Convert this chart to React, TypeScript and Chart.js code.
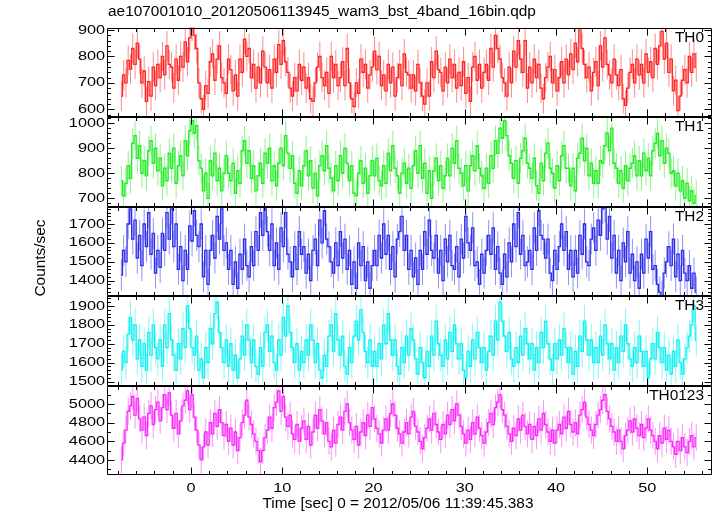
import React, { useEffect, useRef } from "react";
import { Chart, registerables } from "chart.js";
Chart.register(...registerables);

const W = 717;
const H = 516;

// time bins (sec)
const T0 = -7.625;
const BIN = 0.25;

const TITLE = "ae107001010_20120506113945_wam3_bst_4band_16bin.qdp";
const X_TITLE = "Time [sec] 0 = 2012/05/06 11:39:45.383";
const Y_TITLE = "Counts/sec";
const PANEL_NAMES = ["TH0", "TH1", "TH2", "TH3", "TH0123"];

const TH0 = [
  650, 730, 700, 785, 752, 830, 770, 850, 790, 700, 745, 630, 705, 650, 760, 690,
  770, 720, 800, 730, 840, 770, 760, 680, 790, 710, 800, 760, 855, 780, 870, 915,
  880, 830, 700, 640, 600, 690, 660, 780, 810, 710, 790, 840, 720, 700, 660, 790,
  750, 670, 730, 650, 790, 740, 865, 800, 830, 720, 770, 680, 760, 700, 820, 760,
  700, 750, 680, 790, 740, 845, 770, 860, 780, 740, 680, 650, 720, 670, 770, 710,
  760, 680, 720, 640, 630, 700, 760, 800, 720, 690, 740, 660, 800, 720, 770, 690,
  720, 780, 690, 830, 700, 640, 610, 700, 660, 790, 740, 770, 680, 730, 760, 820,
  750, 800, 690, 730, 670, 770, 700, 760, 650, 720, 770, 690, 810, 740, 730, 680,
  730, 670, 770, 700, 650, 620, 700, 650, 780, 720, 820, 750, 740, 670, 760, 700,
  790, 720, 770, 680, 740, 690, 780, 660, 720, 630, 760, 800, 710, 770, 680, 740,
  770, 710, 830, 760, 880, 830, 790, 720, 700, 650, 760, 700, 820, 760, 860, 790,
  740, 860, 680, 760, 700, 790, 720, 770, 680, 640, 720, 760, 800, 700, 750, 670,
  720, 780, 700, 790, 730, 810, 750, 850, 780, 905, 830, 770, 720, 760, 670, 740,
  780, 690, 840, 760, 870, 770, 730, 700, 790, 730, 690, 750, 640, 615, 680, 740,
  770, 700, 790, 730, 770, 700, 810, 740, 780, 720, 830, 770, 840, 895, 790, 850,
  740, 790, 670, 710, 595, 650, 710, 750, 700, 800, 740, 810, 760,
];

const TH1 = [
  770, 710, 760, 830, 780, 920, 950, 860, 910, 800, 850, 790, 890, 930, 840, 900,
  810, 860, 750, 820, 770, 880, 820, 900, 760, 830, 870, 790, 930, 870, 970, 1010,
  960, 990, 850, 820, 730, 800, 700, 850, 790, 880, 770, 820, 730, 800, 870, 800,
  770, 840, 720, 810, 760, 890, 930, 840, 890, 780, 830, 730, 790, 840, 760, 880,
  840, 900, 770, 830, 750, 840, 900, 830, 950, 880, 820, 870, 760, 720, 810, 750,
  830, 890, 790, 850, 740, 800, 710, 830, 870, 810, 910, 820, 780, 730, 830, 770,
  870, 800, 900, 840, 770, 830, 720, 710, 800, 850, 760, 820, 720, 790, 850, 790,
  860, 770, 750, 830, 760, 880, 810, 910, 820, 790, 720, 800, 840, 760, 820, 740,
  830, 890, 800, 910, 780, 840, 720, 810, 700, 810, 860, 770, 830, 740, 790, 860,
  790, 900, 840, 930, 820, 800, 750, 830, 730, 830, 870, 810, 910, 820, 790, 740,
  820, 760, 870, 820, 930, 880, 980, 940, 1010, 950, 870, 840, 780, 850, 760, 860,
  890, 940, 840, 820, 780, 860, 750, 720, 840, 770, 880, 920, 820, 800, 740, 830,
  770, 870, 910, 820, 820, 750, 820, 730, 860, 880, 940, 850, 900, 790, 840, 760,
  810, 760, 850, 840, 910, 960, 890, 980, 840, 820, 760, 810, 740, 830, 770, 820,
  840, 870, 790, 850, 790, 880, 810, 860, 790, 890, 920, 960, 870, 930, 840, 900,
  880, 800, 810, 750, 800, 730, 770, 700, 760, 690, 730, 680, 710,
];

const TH2 = [
  1430, 1560, 1500, 1700, 1780, 1620, 1720, 1520, 1640, 1480, 1700, 1580, 1760, 1540, 1650, 1440,
  1560, 1470, 1650, 1560, 1760, 1620, 1780, 1580, 1700, 1460, 1580, 1400, 1560, 1460, 1690, 1610,
  1770, 1640, 1580, 1700, 1420, 1560, 1380, 1560, 1640, 1520, 1740, 1620, 1780, 1560, 1600, 1460,
  1560, 1380, 1500, 1360, 1540, 1460, 1620, 1480, 1420, 1580, 1480, 1660, 1560, 1760, 1640, 1780,
  1660, 1560, 1700, 1480, 1600, 1460, 1680, 1580, 1760, 1540, 1500, 1420, 1580, 1460, 1660, 1540,
  1580, 1440, 1540, 1400, 1560, 1620, 1480, 1720, 1600, 1770, 1620, 1580, 1500, 1440, 1600, 1480,
  1660, 1520, 1620, 1460, 1560, 1380, 1500, 1360, 1600, 1480, 1580, 1400, 1500, 1360, 1480, 1560,
  1480, 1640, 1520, 1700, 1540, 1640, 1460, 1580, 1420, 1620, 1660, 1740, 1560, 1640, 1460, 1560,
  1420, 1520, 1380, 1560, 1460, 1660, 1540, 1720, 1560, 1520, 1640, 1440, 1560, 1400, 1620, 1500,
  1640, 1480, 1460, 1580, 1420, 1620, 1520, 1740, 1600, 1560, 1680, 1480, 1500, 1380, 1540, 1440,
  1560, 1640, 1540, 1680, 1460, 1580, 1440, 1380, 1540, 1420, 1600, 1500, 1700, 1580, 1760, 1540,
  1640, 1480, 1500, 1560, 1460, 1680, 1560, 1770, 1640, 1620, 1520, 1620, 1440, 1400, 1560, 1460,
  1580, 1700, 1560, 1660, 1460, 1560, 1420, 1560, 1440, 1640, 1540, 1700, 1500, 1480, 1620, 1680,
  1560, 1720, 1640, 1780, 1790, 1620, 1740, 1520, 1640, 1440, 1560, 1400, 1600, 1500, 1660, 1440,
  1540, 1400, 1500, 1360, 1540, 1440, 1620, 1520, 1660, 1460, 1480, 1380, 1340, 1320, 1440, 1500,
  1580, 1480, 1620, 1420, 1540, 1400, 1560, 1440, 1400, 1480, 1360, 1440, 1340,
];

const TH3 = [
  1560, 1660, 1600, 1750, 1840, 1720, 1800, 1620, 1720, 1580, 1700, 1560, 1760, 1640, 1800, 1680,
  1620, 1720, 1580, 1800, 1680, 1860, 1720, 1640, 1560, 1700, 1620, 1780, 1680, 1900, 1780, 1680,
  1640, 1740, 1560, 1620, 1520, 1680, 1600, 1780, 1700, 1860, 1920, 1760, 1680, 1600, 1720, 1580,
  1700, 1560, 1640, 1520, 1620, 1740, 1640, 1800, 1720, 1600, 1720, 1580, 1540, 1680, 1580, 1760,
  1800, 1660, 1740, 1600, 1560, 1720, 1640, 1840, 1740, 1900, 1760, 1680, 1600, 1700, 1560, 1660,
  1600, 1720, 1640, 1800, 1720, 1600, 1700, 1560, 1520, 1640, 1580, 1740, 1800, 1660, 1860, 1720,
  1640, 1740, 1580, 1540, 1680, 1600, 1740, 1820, 1720, 1880, 1760, 1660, 1600, 1720, 1580, 1660,
  1580, 1700, 1620, 1800, 1700, 1860, 1720, 1640, 1720, 1580, 1540, 1680, 1600, 1740, 1640, 1780,
  1720, 1620, 1540, 1680, 1600, 1520, 1660, 1580, 1740, 1640, 1820, 1700, 1640, 1580, 1720, 1620,
  1760, 1660, 1800, 1700, 1620, 1700, 1560, 1520, 1660, 1580, 1720, 1620, 1760, 1680, 1600, 1680,
  1560, 1660, 1740, 1640, 1820, 1720, 1920, 1820, 1740, 1660, 1760, 1620, 1580, 1680, 1600, 1740,
  1640, 1780, 1700, 1620, 1700, 1560, 1680, 1600, 1760, 1680, 1820, 1700, 1620, 1560, 1700, 1620,
  1720, 1640, 1780, 1680, 1600, 1680, 1540, 1660, 1580, 1740, 1660, 1820, 1720, 1640, 1720, 1600,
  1680, 1600, 1740, 1640, 1800, 1700, 1620, 1700, 1560, 1680, 1600, 1740, 1660, 1800, 1700, 1620,
  1580, 1680, 1600, 1740, 1660, 1580, 1660, 1520, 1620, 1700, 1620, 1760, 1680, 1600, 1680, 1560,
  1640, 1540, 1660, 1580, 1720, 1600, 1540, 1620, 1680, 1740, 1800, 1900, 1720,
];

const TH0123 = [
  4400, 4580, 4720, 4920, 4980, 5080, 4880, 5060, 4840, 4720, 4860, 4660, 4900, 4980, 4780, 4940,
  5020, 4820, 4960, 5100, 4940, 5120, 4880, 4740, 4900, 4680, 4820, 4980, 5040, 5140, 4940, 5100,
  4860, 4720, 4560, 4400, 4540, 4700, 4560, 4800, 4680, 4900, 4760, 4940, 4800, 4660, 4780, 4600,
  4740, 4560, 4700, 4500, 4640, 4800, 4880, 5040, 4860, 4780, 4680, 4600, 4500, 4380, 4500, 4640,
  4720, 4860, 4740, 4960, 5020, 5140, 4920, 5080, 4860, 4760, 4880, 4680, 4620, 4780, 4600, 4740,
  4820, 4620, 4760, 4560, 4700, 4880, 4740, 4940, 4820, 4680, 4800, 4600, 4540, 4720, 4580, 4780,
  4860, 4720, 4920, 5000, 4800, 4720, 4620, 4760, 4560, 4700, 4800, 4660, 4880, 4760, 4960, 4840,
  4740, 4680, 4580, 4720, 4840, 4720, 4900, 5000, 4880, 4740, 4680, 4580, 4700, 4800, 4680, 4860,
  4920, 4760, 4700, 4600, 4520, 4640, 4740, 4840, 4720, 4900, 4780, 4700, 4620, 4780, 4680, 4880,
  4780, 4940, 4820, 5000, 4880, 4760, 4680, 4580, 4720, 4620, 4800, 4680, 4860, 4740, 4660, 4580,
  4700, 4800, 4900, 4780, 4960, 5020, 5100, 4940, 4880, 4760, 4680, 4600, 4740, 4660, 4840, 4720,
  4880, 4760, 4680, 4780, 4620, 4760, 4660, 4840, 4720, 4900, 4780, 4700, 4600, 4720, 4580, 4720,
  4780, 4680, 4860, 4740, 4920, 4780, 4700, 4800, 4680, 4880, 4940, 5020, 4860, 4780, 4720, 4660,
  4780, 4880, 4940, 5040, 5100, 4920, 4840, 4760, 4700, 4600, 4720, 4600, 4520, 4660, 4720, 4820,
  4700, 4840, 4740, 4660, 4780, 4640, 4740, 4840, 4720, 4660, 4600, 4520, 4660, 4580, 4740, 4620,
  4720, 4600, 4540, 4460, 4600, 4500, 4640, 4540, 4480, 4600, 4660, 4540, 4640,
];

const SERIES = [TH0, TH1, TH2, TH3, TH0123];
const ERRORS = [56, 60, 82, 86, 145];

const X_MIN = -9.2;
const X_MAX = 57.1;
const X_MAJOR = [0, 10, 20, 30, 40, 50];
const X_MINOR_STEP = 2;

const Y_MIN = [571, 667, 1319, 1479, 4239];
const Y_MAX = [909.5, 1025, 1792.6, 1953, 5198];
const Y_MAJOR = [
  [600, 700, 800, 900],
  [700, 800, 900, 1000],
  [1400, 1500, 1600, 1700],
  [1500, 1600, 1700, 1800, 1900],
  [4400, 4600, 4800, 5000],
];
const Y_MINOR_STEP = [20, 20, 20, 20, 100];

const COLORS = ["rgb(255,35,35)", "rgb(40,235,40)", "rgb(45,45,235)", "rgb(20,240,240)", "rgb(250,40,250)"];
const ERR_COLORS = [
  "rgba(255,60,60,0.6)",
  "rgba(60,240,60,0.6)",
  "rgba(70,70,240,0.6)",
  "rgba(40,245,245,0.6)",
  "rgba(250,70,250,0.6)",
];

// layout
const PLOT_LEFT = 107;
const PLOT_RIGHT = 712;
const EDGES = [27.5, 117, 206.5, 296, 385.5, 475];

const FONT = "'Liberation Sans', Arial, Helvetica, sans-serif";

function drawText(
  ctx: CanvasRenderingContext2D,
  text: string,
  x: number,
  y: number,
  align: CanvasTextAlign,
  size: number,
  sx: number,
  rot = 0
) {
  ctx.save();
  ctx.translate(x, y);
  if (rot) ctx.rotate(rot);
  ctx.scale(sx, 1);
  ctx.font = `${size}px ${FONT}`;
  ctx.textAlign = align;
  ctx.textBaseline = "middle";
  ctx.fillStyle = "#000";
  ctx.fillText(text, 0, 0);
  ctx.restore();
}

function minorValues(min: number, max: number, step: number) {
  const out: number[] = [];
  for (let v = Math.ceil(min / step) * step; v <= max; v += step) out.push(v);
  return out;
}

function makePlugin(p: number) {
  return {
    id: "qdp" + p,
    beforeDatasetsDraw(chart: any) {
      const ctx: CanvasRenderingContext2D = chart.ctx;
      const xs = chart.scales.x;
      const ys = chart.scales.y;
      const a = chart.chartArea;
      ctx.save();
      ctx.beginPath();
      ctx.rect(a.left, a.top, a.right - a.left, a.bottom - a.top);
      ctx.clip();
      ctx.strokeStyle = ERR_COLORS[p];
      ctx.lineWidth = 1;
      ctx.beginPath();
      const vals = SERIES[p];
      const e = ERRORS[p];
      vals.forEach((v, i) => {
        const px = xs.getPixelForValue(T0 + i * BIN);
        ctx.moveTo(px, ys.getPixelForValue(v - e));
        ctx.lineTo(px, ys.getPixelForValue(v + e));
      });
      ctx.stroke();
      ctx.restore();
    },
    afterDraw(chart: any) {
      const ctx: CanvasRenderingContext2D = chart.ctx;
      const xs = chart.scales.x;
      const ys = chart.scales.y;
      const a = chart.chartArea;
      const L = Math.round(a.left) + 0.5;
      const R = Math.round(a.right) - 0.5;
      const T = Math.round(a.top) + 0.5;
      const B = Math.round(a.bottom) - 0.5;
      ctx.save();
      ctx.strokeStyle = "#000";
      ctx.lineWidth = 1;
      ctx.beginPath();
      ctx.rect(L, T, R - L, B - T);
      const xMinor = minorValues(X_MIN, X_MAX, X_MINOR_STEP);
      xMinor.forEach((v) => {
        const major = X_MAJOR.includes(v);
        const len = major ? 7 : 3.5;
        const px = Math.round(xs.getPixelForValue(v)) + 0.5;
        ctx.moveTo(px, B);
        ctx.lineTo(px, B - len);
        ctx.moveTo(px, T);
        ctx.lineTo(px, T + len);
      });
      const yMinor = minorValues(Y_MIN[p], Y_MAX[p], Y_MINOR_STEP[p]);
      yMinor.forEach((v) => {
        const major = Y_MAJOR[p].includes(v);
        const len = major ? 7 : 3.5;
        const py = Math.round(ys.getPixelForValue(v)) + 0.5;
        ctx.moveTo(L, py);
        ctx.lineTo(L + len, py);
        ctx.moveTo(R, py);
        ctx.lineTo(R - len, py);
      });
      ctx.stroke();
      ctx.restore();

      Y_MAJOR[p].forEach((v) => {
        drawText(ctx, String(v), a.left - 2, ys.getPixelForValue(v), "right", 13, 1.25);
      });
      drawText(ctx, PANEL_NAMES[p], 704, a.top + 10.5, "right", 14, 1.1);

      if (p === 0) {
        drawText(ctx, TITLE, 108, 12, "left", 14, 1.1);
        drawText(ctx, Y_TITLE, 41, 258, "center", 14, 1.1, -Math.PI / 2);
      }
      if (p === SERIES.length - 1) {
        X_MAJOR.forEach((v) => {
          drawText(ctx, String(v), xs.getPixelForValue(v), 488.5, "center", 13, 1.25);
        });
        drawText(ctx, X_TITLE, 398, 504.5, "center", 14, 1.1);
      }
    },
  };
}

export default function App() {
  const refs = useRef<(HTMLCanvasElement | null)[]>([]);
  useEffect(() => {
    const charts = SERIES.map((vals, p) => {
      const canvas = refs.current[p] as HTMLCanvasElement;
      const top = EDGES[p];
      const bottom = EDGES[p + 1];
      const data = vals.map((v, i) => ({ x: T0 + i * BIN, y: v }));
      return new Chart(canvas, {
        type: "line",
        data: {
          datasets: [
            {
              data,
              borderColor: COLORS[p],
              borderWidth: 1.3,
              pointRadius: 0,
              stepped: "middle",
              fill: false,
            },
          ],
        },
        options: {
          animation: false,
          responsive: false,
          devicePixelRatio: 1,
          events: [],
          layout: {
            padding: { left: PLOT_LEFT, right: W - PLOT_RIGHT, top, bottom: H - bottom },
          },
          scales: {
            x: { type: "linear", min: X_MIN, max: X_MAX, display: false },
            y: { type: "linear", min: Y_MIN[p], max: Y_MAX[p], display: false },
          },
          plugins: { legend: { display: false }, tooltip: { enabled: false } },
        },
        plugins: [makePlugin(p)],
      } as any);
    });
    return () => charts.forEach((c) => c.destroy());
  }, []);

  return (
    <div style={{ position: "absolute", left: 0, top: 0, width: W, height: H, background: "#fff" }}>
      {SERIES.map((_, p) => (
        <canvas
          key={p}
          ref={(el) => {
            refs.current[p] = el;
          }}
          width={W}
          height={H}
          style={{ position: "absolute", left: 0, top: 0, width: W, height: H }}
        />
      ))}
    </div>
  );
}
